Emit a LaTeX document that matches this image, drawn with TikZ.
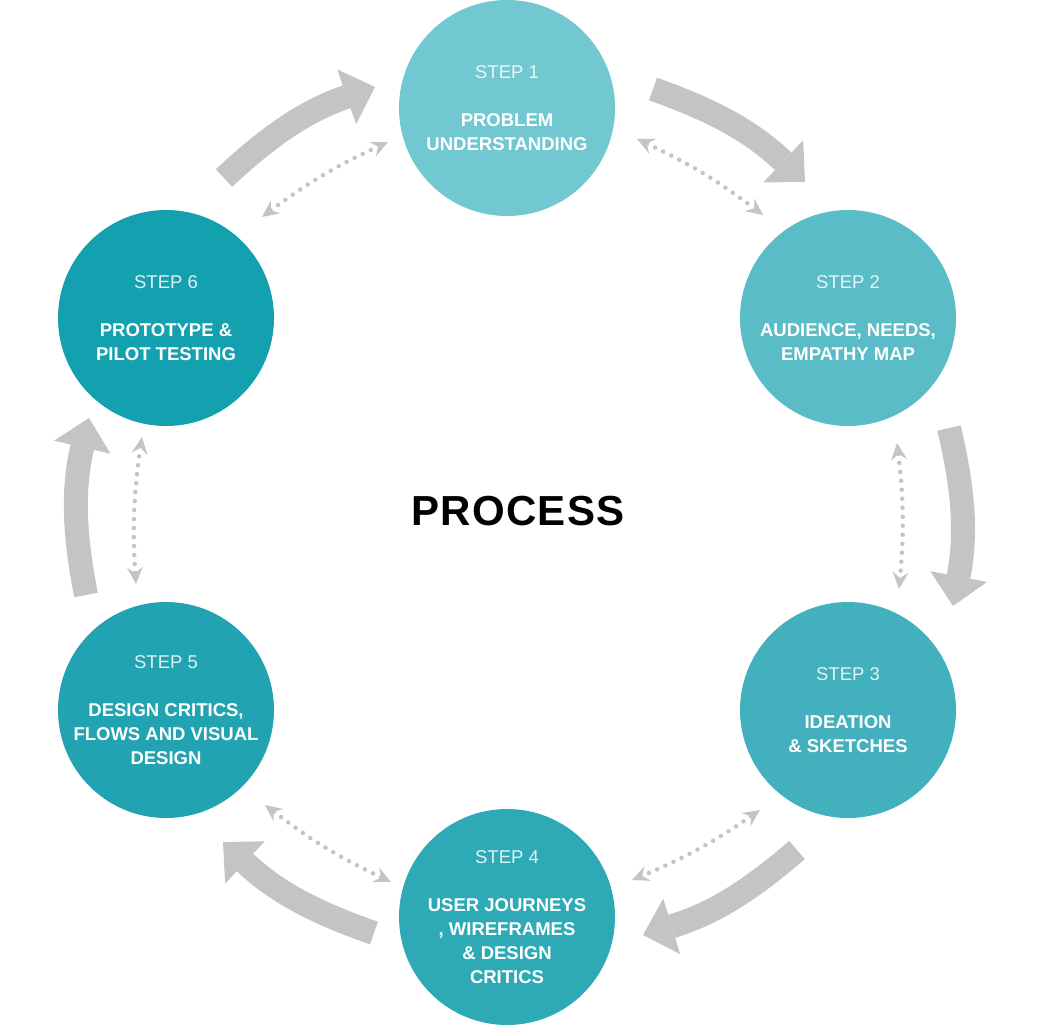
\documentclass[tikz,border=0pt]{standalone}
\usepackage{fontspec}
\setmainfont{Liberation Sans}
\usetikzlibrary{arrows.meta}
\definecolor{cA}{HTML}{72C8D0}
\definecolor{cB}{HTML}{5ABCC6}
\definecolor{cC}{HTML}{43B1BD}
\definecolor{cD}{HTML}{2EAAB6}
\definecolor{cE}{HTML}{22A3B1}
\definecolor{cF}{HTML}{14A1AF}
\definecolor{arrgray}{HTML}{C4C4C4}
\newcommand{\stlabel}[2]{\textcolor{white!85!#1}{#2}}
\begin{document}
\begin{tikzpicture}[x=1pt,y=-1pt,
  stepcircle/.style={circle, minimum size=216pt, inner sep=0pt, text=white, align=center,
    font=\fontsize{18.5}{24}\selectfont},
  bigarrow/.style={draw=arrgray, line width=24pt,
    -{Triangle[length=30pt,width=58pt,line width=0pt]}},
  dotarrow/.style={draw=arrgray, line width=4.5pt, line cap=round, dash pattern=on 0pt off 9pt,
    {Stealth[length=17pt,width=16pt,inset=6pt,line width=0pt]}-{Stealth[length=17pt,width=16pt,inset=6pt,line width=0pt]}},
  title/.style={font=\fontsize{42}{48}\selectfont\bfseries\addfontfeature{LetterSpace=3}, text=black}
]
\useasboundingbox (0,0) rectangle (1040,1024);

% circles
\node[stepcircle, fill=cA] (s1) at (507,108) {\stlabel{cA}{STEP 1}\\[24pt]\textbf{PROBLEM}\\\textbf{UNDERSTANDING}};
\node[stepcircle, fill=cB] (s2) at (848,318) {\stlabel{cB}{STEP 2}\\[24pt]\textbf{AUDIENCE, NEEDS,}\\\textbf{EMPATHY MAP}};
\node[stepcircle, fill=cC] (s3) at (848,710) {\stlabel{cC}{STEP 3}\\[24pt]\textbf{IDEATION}\\\textbf{\& SKETCHES}};
\node[stepcircle, fill=cD] (s4) at (507,917) {\stlabel{cD}{STEP 4}\\[24pt]\textbf{USER JOURNEYS}\\\textbf{, WIREFRAMES}\\\textbf{\& DESIGN}\\\textbf{CRITICS}};
\node[stepcircle, fill=cE] (s5) at (166,710) {\stlabel{cE}{STEP 5}\\[24pt]\textbf{DESIGN CRITICS,}\\\textbf{FLOWS AND VISUAL}\\\textbf{DESIGN}};
\node[stepcircle, fill=cF] (s6) at (166,318) {\stlabel{cF}{STEP 6}\\[24pt]\textbf{PROTOTYPE \&}\\\textbf{PILOT TESTING}};

\node[title] (proc) at (518,511) {PROCESS};

% big arrow end points
\coordinate (a12s) at (653,89);  \coordinate (a12e) at (805,182);
\coordinate (a23s) at (949,428); \coordinate (a23e) at (953,606);
\coordinate (a34s) at (797,850); \coordinate (a34e) at (643,935);
\coordinate (a45s) at (374,933); \coordinate (a45e) at (223,842);
\coordinate (a56s) at (86,595);  \coordinate (a56e) at (89,418);
\coordinate (a61s) at (224,178); \coordinate (a61e) at (375,87);

\draw[bigarrow] (a12s) to[bend left=12] (a12e);
\draw[bigarrow] (a23s) to[bend left=12] (a23e);
\draw[bigarrow] (a34s) to[bend left=12] (a34e);
\draw[bigarrow] (a45s) to[bend left=12] (a45e);
\draw[bigarrow] (a56s) to[bend left=12] (a56e);
\draw[bigarrow] (a61s) to[bend left=12] (a61e);

% dotted arrow end points
\coordinate (d12s) at (637,139); \coordinate (d12e) at (763,215);
\coordinate (d23s) at (897,443); \coordinate (d23e) at (899,589);
\coordinate (d34s) at (760,810); \coordinate (d34e) at (632,880);
\coordinate (d45s) at (391,882); \coordinate (d45e) at (265,805);
\coordinate (d56s) at (136,584); \coordinate (d56e) at (142,437);
\coordinate (d61s) at (262,217); \coordinate (d61e) at (388,142);

\draw[dotarrow] (d12s) to[bend left=6] (d12e);
\draw[dotarrow] (d23s) to[bend left=6] (d23e);
\draw[dotarrow] (d34s) to[bend left=6] (d34e);
\draw[dotarrow] (d45s) to[bend left=6] (d45e);
\draw[dotarrow] (d56s) to[bend left=6] (d56e);
\draw[dotarrow] (d61s) to[bend left=6] (d61e);
\end{tikzpicture}
\end{document}
